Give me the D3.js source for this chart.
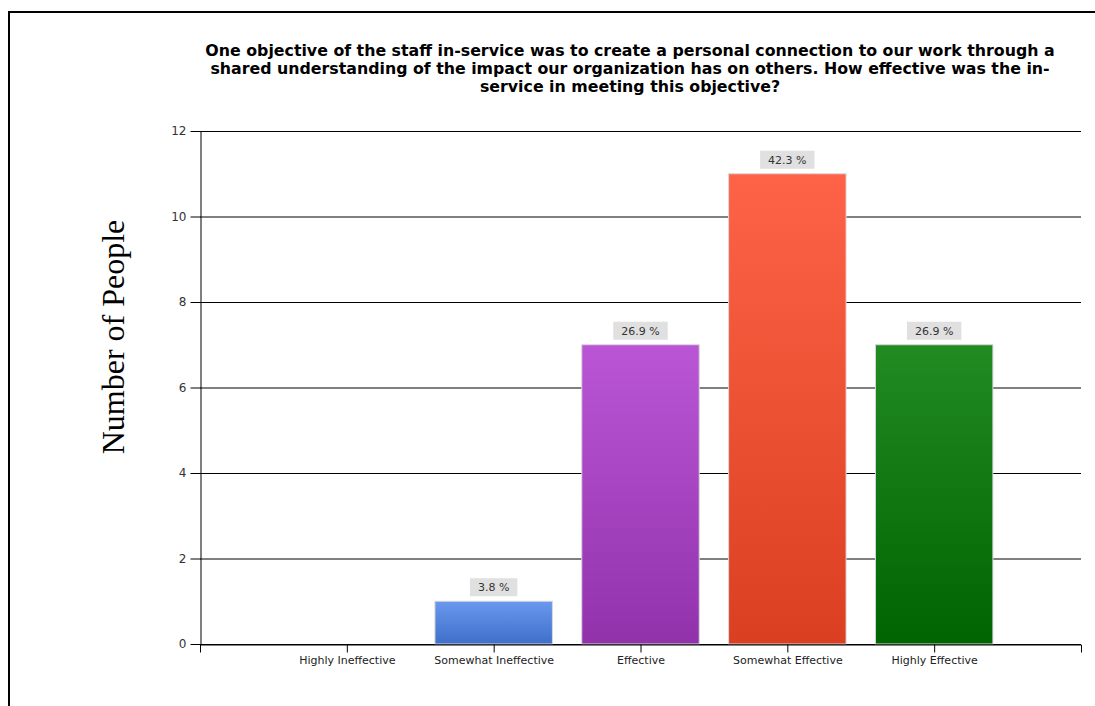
<!DOCTYPE html>
<html>
<head>
<meta charset="utf-8">
<script src="https://cdn.jsdelivr.net/npm/d3@7"></script>
<style>
  html, body { margin: 0; padding: 0; background: #fff; }
  svg { display: block; }
</style>
</head>
<body>
<svg id="chart" width="1095" height="706"></svg>
<script>
// Survey responses: number of people per rating
const categories = ["Highly Ineffective", "Somewhat Ineffective", "Effective", "Somewhat Effective", "Highly Effective"];
const counts = [0, 1, 7, 11, 7];
const percentLabels = ["", "3.8 %", "26.9 %", "42.3 %", "26.9 %"];
const yTicks = [0, 2, 4, 6, 8, 10, 12];
const titleLines = [
  "One objective of the staff in-service was to create a personal connection to our work through a",
  "shared understanding of the impact our organization has on others. How effective was the in-",
  "service in meeting this objective?"
];
const barColors = [
  ["#6a98ee", "#3f6fca"],
  ["#6a98ee", "#3f6fca"],
  ["#ba56d6", "#9232ab"],
  ["#ff6347", "#da3f21"],
  ["#228b22", "#006400"]
];

const sans = "DejaVu Sans, Verdana, sans-serif";
const svg = d3.select("#chart");

// outer frame
svg.append("rect")
  .attr("x", 9).attr("y", 12)
  .attr("width", 1110).attr("height", 720)
  .attr("fill", "none").attr("stroke", "#000").attr("stroke-width", 2);

const plot = { left: 200, right: 1081, top: 131, bottom: 644 };

const x = d3.scalePoint().domain(categories).range([plot.left, plot.right]).padding(1);
const y = d3.scaleLinear().domain([0, 12]).range([plot.bottom, plot.top]);
const barW = x.step() * 0.8;

// gradients
const defs = svg.append("defs");
barColors.forEach((c, i) => {
  const g = defs.append("linearGradient")
    .attr("id", "grad" + i).attr("x1", 0).attr("y1", 0).attr("x2", 0).attr("y2", 1);
  g.append("stop").attr("offset", "0%").attr("stop-color", c[0]);
  g.append("stop").attr("offset", "100%").attr("stop-color", c[1]);
});

// gridlines
svg.append("g").selectAll("line").data(yTicks).join("line")
  .attr("x1", plot.left).attr("x2", plot.right)
  .attr("y1", d => y(d) + 0.5).attr("y2", d => y(d) + 0.5)
  .attr("stroke", "#000").attr("stroke-width", 1);

// y axis
const yAxis = svg.append("g")
  .attr("transform", `translate(${plot.left + 0.5},0)`)
  .call(d3.axisLeft(y).tickValues(yTicks).tickSize(10).tickSizeOuter(0).tickPadding(4));
yAxis.select(".domain").attr("stroke", "#000");
yAxis.selectAll(".tick line").attr("stroke", "#000");
yAxis.selectAll(".tick text")
  .attr("font-family", sans)
  .attr("font-size", 12).attr("fill", "#333");
// extend the y axis line below zero
svg.append("line")
  .attr("x1", plot.left + 0.5).attr("x2", plot.left + 0.5)
  .attr("y1", plot.bottom).attr("y2", plot.bottom + 8)
  .attr("stroke", "#000");

// bars
const rows = categories.map((c, i) => ({ cat: c, value: counts[i], label: percentLabels[i], i }));
svg.append("g").selectAll("rect").data(rows.filter(d => d.value > 0)).join("rect")
  .attr("x", d => x(d.cat) - barW / 2)
  .attr("y", d => y(d.value))
  .attr("width", barW)
  .attr("height", d => y(0) - y(d.value))
  .attr("fill", d => `url(#grad${d.i})`)
  .attr("stroke", "#d8d8d8").attr("stroke-width", 1);

// x axis
const xAxis = svg.append("g")
  .attr("transform", `translate(0,${plot.bottom + 0.5})`)
  .call(d3.axisBottom(x).tickSize(8).tickSizeOuter(8).tickPadding(4));
xAxis.select(".domain").attr("stroke", "#000");
xAxis.selectAll(".tick line").attr("stroke", "#000");
xAxis.selectAll(".tick text")
  .attr("font-family", sans)
  .attr("font-size", 11).attr("fill", "#222");

// value labels
const lbl = svg.append("g").selectAll("g").data(rows.filter(d => d.label)).join("g")
  .attr("transform", d => `translate(${x(d.cat)},${y(d.value) - 5})`);
lbl.append("rect").attr("class", "bg").attr("fill", "#e0e0e0");
lbl.append("text")
  .attr("text-anchor", "middle")
  .attr("y", -5)
  .attr("font-family", sans)
  .attr("font-size", 11).attr("fill", "#333")
  .text(d => d.label);
lbl.each(function () {
  const g = d3.select(this);
  const w = g.select("text").node().getComputedTextLength() + 16;
  g.select("rect.bg").attr("x", -w / 2).attr("y", -18).attr("width", w).attr("height", 18);
});

// title
svg.append("text")
  .attr("text-anchor", "middle")
  .attr("font-family", sans)
  .attr("font-weight", "bold").attr("font-size", 15.8).attr("fill", "#000")
  .selectAll("tspan").data(titleLines).join("tspan")
  .attr("x", 630).attr("y", (d, i) => 56 + i * 18)
  .text(d => d);

// y axis title
svg.append("text")
  .attr("transform", "translate(124,337) rotate(-90)")
  .attr("text-anchor", "middle")
  .attr("font-family", "Liberation Serif, Times New Roman, serif")
  .attr("font-size", 32).attr("fill", "#000")
  .text("Number of People");
</script>
</body>
</html>
